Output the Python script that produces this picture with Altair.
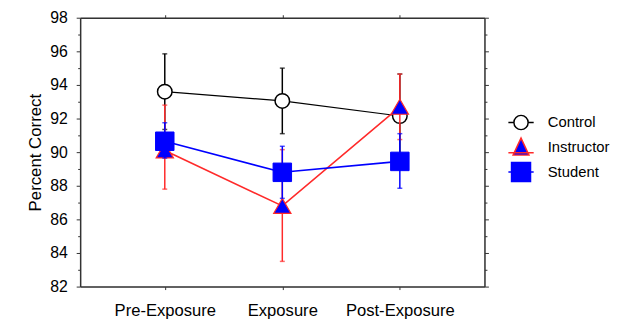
import altair as alt
import pandas as pd

phases = ["Pre-Exposure", "Exposure", "Post-Exposure"]
groups = ["Control", "Instructor", "Student"]

control_mean = [93.6, 93.05, 92.15]
control_low = [91.35, 91.1, 89.65]
control_high = [95.85, 95.0, 94.65]

instructor_mean = [90.1, 86.8, 92.7]
instructor_low = [87.8, 83.5, 90.75]
instructor_high = [92.8, 90.15, 94.65]

student_mean = [90.65, 88.8, 89.45]
student_low = [89.65, 87.25, 87.85]
student_high = [91.75, 90.35, 91.1]

y_all_ticks = list(range(82, 99))

line_colors = ["#000000", "#ff2a2a", "#0000ff"]
fill_colors = ["#ffffff", "#0000ff", "#0000ff"]
marker_strokes = ["#000000", "#ff2a2a", "#0000ff"]
shapes = ["circle", "triangle-up", "square"]
sizes = [215, 306, 350]
marker_stroke_w = [1.5, 1.2, 1.0]
line_w = [1.2, 1.6, 1.6]

legend_paths = [
    "M-1.6,0H-0.9M0.9,0H1.6M-0.9,0A0.9,0.9,0,1,1,0.9,0A0.9,0.9,0,1,1,-0.9,0Z",
    "M-1.6,0.7H1.6M0,-1.15L1,1L-1,1Z",
    "M-1.6,0H1.6M-1.2,-1.2H1.2V1.2H-1.2Z",
]

means = [control_mean, instructor_mean, student_mean]
lows = [control_low, instructor_low, student_low]
highs = [control_high, instructor_high, student_high]

rows = []
for g, m, lo, hi in zip(groups, means, lows, highs):
    for p, mv, l, h in zip(phases, m, lo, hi):
        rows.append({"group": g, "phase": p, "mean": mv, "low": l, "high": h})
df = pd.DataFrame(rows)

FONT = "Liberation Sans"
x_scale = alt.Scale(domain=phases, type="point", padding=0.72)
y_scale = alt.Scale(domain=[82, 98], nice=False, zero=False)

tick_cond = {"condition": {"test": "datum.value % 2 === 0", "value": 4}, "value": 2.5}

left_axis = alt.Axis(
    orient="left", values=y_all_ticks, grid=False, title="Percent Correct",
    labelExpr="datum.value % 2 === 0 ? datum.label : ''",
    labelFont=FONT, labelFontSize=16, labelColor="#000", labelPadding=9,
    titleFont=FONT, titleFontSize=17, titleFontWeight="normal", titleColor="#000",
    titlePadding=5, tickSize=tick_cond, tickColor="#333", domainColor="#333",
    domainWidth=1.5, labelFlush=False,
)
right_axis = alt.Axis(
    orient="right", values=y_all_ticks, grid=False, title=None, labels=False,
    tickSize=tick_cond, tickColor="#333", domainColor="#333", domainWidth=1.5,
)
bottom_axis = alt.Axis(
    orient="bottom", grid=False, title=None, labelAngle=0,
    labelFont=FONT, labelFontSize=16.8, labelColor="#000", labelPadding=13,
    tickSize=3, tickColor="#333", domainColor="#333", domainWidth=1.5,
)
top_axis = alt.Axis(
    orient="top", grid=False, title=None, labels=False,
    tickSize=3, tickColor="#333", domainColor="#333", domainWidth=1.5,
)

base = alt.Chart(df)
layers = []
first = True
for i, g in enumerate(groups):
    sub = base.transform_filter(alt.datum.group == g)
    if first:
        xa, ya = bottom_axis, left_axis
        cap_axes = (top_axis, right_axis)
    else:
        xa, ya = None, None
        cap_axes = (None, None)
    rule = sub.mark_rule(color=line_colors[i], strokeWidth=1.5).encode(
        x=alt.X("phase:N", scale=x_scale, sort=phases, axis=xa),
        y=alt.Y("low:Q", scale=y_scale, axis=ya),
        y2="high:Q",
    )
    cap_lo = sub.mark_tick(color=line_colors[i], size=5, thickness=1.5).encode(
        x=alt.X("phase:N", scale=x_scale, sort=phases, axis=cap_axes[0]),
        y=alt.Y("low:Q", scale=y_scale, axis=cap_axes[1]),
    )
    cap_hi = sub.mark_tick(color=line_colors[i], size=5, thickness=1.5).encode(
        x=alt.X("phase:N", scale=x_scale, sort=phases, axis=None),
        y=alt.Y("high:Q", scale=y_scale, axis=None),
    )
    line = sub.mark_line(color=line_colors[i], strokeWidth=line_w[i]).encode(
        x=alt.X("phase:N", scale=x_scale, sort=phases, axis=None),
        y=alt.Y("mean:Q", scale=y_scale, axis=None),
    )
    pts = sub.mark_point(
        shape=shapes[i], size=sizes[i], filled=True, fill=fill_colors[i],
        stroke=marker_strokes[i], strokeWidth=marker_stroke_w[i], opacity=1,
    ).encode(
        x=alt.X("phase:N", scale=x_scale, sort=phases, axis=None),
        y=alt.Y("mean:Q", scale=y_scale, axis=None),
    )
    layers.extend([rule, cap_lo, cap_hi, line, pts])
    first = False

legend_df = pd.DataFrame({"group": groups})
leg = alt.Legend(
    title=None, orient="none", legendX=437, legendY=97, symbolSize=256,
    symbolStrokeWidth=1.5, rowPadding=1, labelOffset=18, padding=0,
    labelFont=FONT, labelFontSize=15, labelColor="#000",
)
legend_layer = alt.Chart(legend_df).transform_filter("false").mark_point(
    size=256, strokeWidth=1.5, filled=True, opacity=1
).encode(
    shape=alt.Shape("group:N", scale=alt.Scale(domain=groups, range=legend_paths), legend=leg),
    fill=alt.Fill("group:N", scale=alt.Scale(domain=groups, range=fill_colors), legend=leg),
    stroke=alt.Stroke("group:N", scale=alt.Scale(domain=groups, range=marker_strokes), legend=leg),
)
layers.append(legend_layer)

chart = alt.layer(*layers).resolve_axis(x="independent", y="independent").properties(
    width=409, height=272,
    autosize=alt.AutoSizeParams(type="none"),
    padding={"left": 73, "top": 8, "right": 127, "bottom": 35},
).configure_view(stroke="#333", strokeWidth=1.5).configure(background="white")

chart.save("out.html", embed_options={"renderer": "svg", "actions": False})
